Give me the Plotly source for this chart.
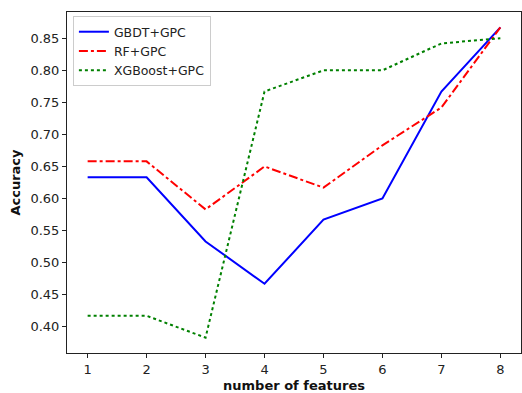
import plotly.graph_objects as go

features = [1, 2, 3, 4, 5, 6, 7, 8]
gbdt_gpc = [0.633, 0.633, 0.533, 0.467, 0.567, 0.600, 0.767, 0.867]
rf_gpc = [0.658, 0.658, 0.583, 0.650, 0.617, 0.683, 0.742, 0.867]
xgb_gpc = [0.417, 0.417, 0.383, 0.767, 0.800, 0.800, 0.842, 0.850]
y_ticks = [0.40, 0.45, 0.50, 0.55, 0.60, 0.65, 0.70, 0.75, 0.80, 0.85]

FONT = "DejaVu Sans"

fig = go.Figure()
fig.add_trace(go.Scatter(x=features, y=gbdt_gpc, mode="lines", name="GBDT+GPC",
                         line=dict(color="#0000ff", width=2, dash="solid")))
fig.add_trace(go.Scatter(x=features, y=rf_gpc, mode="lines", name="RF+GPC",
                         line=dict(color="#ff0000", width=2, dash="dashdot")))
fig.add_trace(go.Scatter(x=features, y=xgb_gpc, mode="lines", name="XGBoost+GPC",
                         line=dict(color="#008000", width=2, dash="dot")))

axis_common = dict(
    showgrid=False, zeroline=False, showline=True, linecolor="#222", linewidth=1,
    mirror=True, ticks="outside", ticklen=4, tickcolor="#222", tickwidth=1,
    tickfont=dict(family=FONT, size=13, color="#222"),
)

fig.update_layout(
    width=522, height=393,
    margin=dict(l=67, r=1, t=12, b=40),
    paper_bgcolor="white", plot_bgcolor="white",
    font=dict(family=FONT, color="#222"),
    xaxis=dict(range=[0.65, 8.35], tickvals=features,
               title=dict(text="<b>number of features</b>", font=dict(family=FONT, size=13, color="#111"), standoff=6),
               **axis_common),
    yaxis=dict(range=[0.359, 0.891], tickvals=y_ticks, tickformat=".2f",
               title=dict(text="<b>Accuracy</b>", font=dict(family=FONT, size=13, color="#111"), standoff=6),
               **axis_common),
    legend=dict(x=0.013, y=0.988, xanchor="left", yanchor="top",
                bgcolor="rgba(255,255,255,0.8)", bordercolor="#cccccc", borderwidth=1,
                font=dict(family=FONT, size=12.5, color="#222"), itemwidth=30,
                tracegroupgap=0),
    showlegend=True,
)

fig.write_html("out.html")
